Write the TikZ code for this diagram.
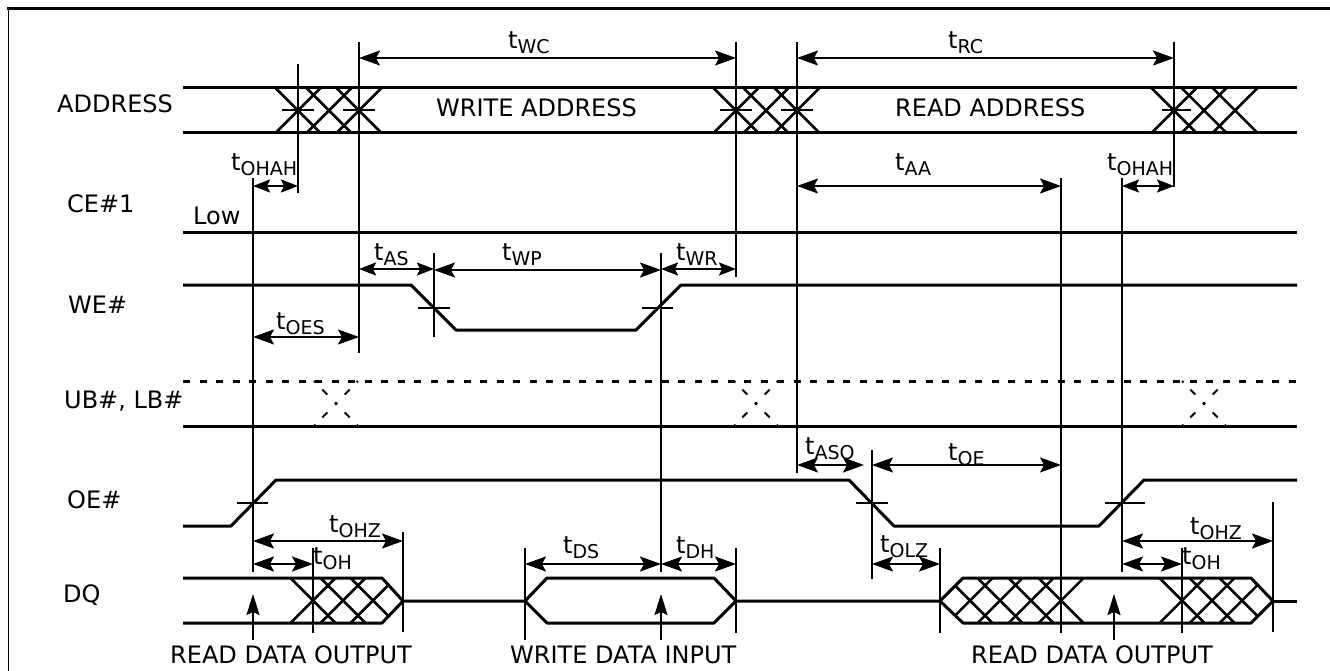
\documentclass[tikz,border=0pt]{standalone}
\usepackage{fontspec}
\setmainfont{DejaVu Sans}
\usetikzlibrary{arrows.meta}
\newcommand{\tlab}[1]{t\raisebox{-5pt}{\fontsize{19}{19}\selectfont #1}}
\newcommand{\crossx}[3]{\draw[hatch] (#1-22.5,#2) -- (#1+22.5,#3) (#1-22.5,#3) -- (#1+22.5,#2);}
\newcommand{\dotcross}[1]{\draw[dotx] (#1-22,381) -- (#1+22,426) (#1-22,426) -- (#1+22,381);}
\begin{document}
\begin{tikzpicture}[x=1pt,y=-1pt,
    every node/.style={anchor=base west,inner sep=0pt,font=\fontsize{24}{26}\selectfont},
    sig/.style={line width=3pt,line join=round},
    hatch/.style={line width=2.5pt},
    vline/.style={line width=2pt},
    dotx/.style={line width=2pt,dash pattern=on 2pt off 10pt on 7pt off 11pt on 3pt off 11pt on 7pt off 10pt on 2pt},
    dim/.style={{Stealth[length=21pt,width=15pt,inset=4pt]}-{Stealth[length=21pt,width=15pt,inset=4pt]},line width=2pt},
    dims/.style={{Stealth[length=17pt,width=13pt,inset=3pt]}-{Stealth[length=17pt,width=13pt,inset=3pt]},line width=2pt},
    riser/.style={-{Stealth[length=21pt,width=13pt,inset=3pt]},line width=2pt}]
  \useasboundingbox (0,0) rectangle (1330,671);
  \draw[line width=3pt] (7,9) -- (1330,9);
  \draw[line width=1.2pt] (8.5,9) -- (8.5,671);
  % signal labels
  \node (address) at (57,113) {ADDRESS};
  \node (ce) at (67,213) {CE\#1};
  \node (we) at (68,313) {WE\#};
  \node (ub) at (64,408) {UB\#, LB\#};
  \node (oe) at (67,508) {OE\#};
  \node (dq) at (63,602) {DQ};
  \node (low) at (193,225) {Low};
  \node (wraddr) at (436,117) {WRITE ADDRESS};
  \node (rdaddr) at (895,117) {READ ADDRESS};
  \node (rdout1) at (170,663) {READ DATA OUTPUT};
  \node (wrin) at (510,663) {WRITE DATA INPUT};
  \node (rdout2) at (971,663) {READ DATA OUTPUT};
  % signals
  \draw[sig] (183,88) -- (1297,88) (183,133) -- (1297,133);
  \draw[sig] (183,232) -- (1297,232);
  \draw[sig] (183,285) -- (411,285) -- (456,330) -- (636,330) -- (681,285) -- (1297,285);
  \draw[line width=3pt,dash pattern=on 7pt off 9.5pt] (183,381) -- (1297,381);
  \draw[sig] (183,426) -- (1297,426);
  \draw[sig] (183,526) -- (231,526) -- (276,480) -- (849,480) -- (894,526) -- (1099,526) -- (1144,480) -- (1297,480);
  \draw[sig] (183,578) -- (382,578) -- (403,601) -- (382,623) -- (183,623);
  \draw[sig] (403,601) -- (525,601) -- (547,578) -- (714,578) -- (736,601) -- (714,623) -- (547,623) -- (525,601);
  \draw[sig] (736,601) -- (940,601) -- (963,578) -- (1251,578) -- (1273,601) -- (1251,623) -- (963,623) -- (940,601);
  \draw[sig] (1273,601) -- (1297,601);
  % crossings
  \foreach \xc in {298,329,359,736,766,797,1174,1204,1235} {\crossx{\xc}{88}{133}}
  \foreach \xc in {336,756,1204} {\dotcross{\xc}}
  \begin{scope}
    \clip (183,578) -- (382,578) -- (403,601) -- (382,623) -- (183,623) -- cycle;
    \foreach \xc in {313,343,373} {\crossx{\xc}{578}{623}}
  \end{scope}
  \begin{scope}
    \clip (940,601) -- (963,578) -- (1251,578) -- (1273,601) -- (1251,623) -- (963,623) -- cycle;
    \foreach \xc in {970,1000,1031,1061,1182,1212,1242} {\crossx{\xc}{578}{623}}
  \end{scope}
  % ticks
  \draw[vline] (418,308) -- (450,308) (642,308) -- (673,308);
  \draw[vline] (237,503) -- (268,503) (856,503) -- (888,503) (1105,503) -- (1145,503);
  \draw[vline] (282,110) -- (314,110) (343,110) -- (375,110);
  \draw[vline] (720,110) -- (752,110) (781,110) -- (813,110) (1162,110) -- (1191,110);
  % timing lines
  \foreach \xa/\ya/\yb in {298/64/193,359/42/353,253/178/572,434/253/337,661/253/572,736/42/277,
      797/42/473,1061/178/633,1122/178/572,1174/42/187,403/532/632,313/548/633,525/548/640,
      736/548/633,872/450/579,940/548/633,1182/548/633,1273/502/632}
    {\draw[vline] (\xa,\ya) -- (\xa,\yb);}
  % read and write arrows
  \foreach \xa in {253,661,1114} {\draw[riser] (\xa,640) -- (\xa,594);}
  % dimension arrows
  \draw[dim] (359,58) -- (736,58);
  \draw[dim] (797,58) -- (1174,58);
  \draw[dims] (253,186) -- (298,186);
  \draw[dims] (1122,186) -- (1174,186);
  \draw[dim] (797,186) -- (1061,186);
  \draw[dims] (359,269) -- (434,269);
  \draw[dim] (434,270) -- (661,270);
  \draw[dims] (661,269) -- (736,269);
  \draw[dim] (253,337) -- (359,337);
  \draw[dim] (253,541) -- (403,541);
  \draw[dim] (253,564) -- (313,564);
  \draw[dim] (525,564) -- (661,564);
  \draw[dim] (661,564) -- (736,564);
  \draw[dim] (797,465) -- (864,465);
  \draw[dim] (872,465) -- (1061,465);
  \draw[dim] (872,564) -- (940,564);
  \draw[dim] (1122,541) -- (1273,541);
  \draw[dim] (1122,564) -- (1182,564);
  % timing labels
  \node (twc) at (508,49) {\tlab{WC}};
  \node (trc) at (948,49) {\tlab{RC}};
  \node (tohah1) at (231,171) {\tlab{OHAH}};
  \node (tohah2) at (1107,171) {\tlab{OHAH}};
  \node (taa) at (895,171) {\tlab{AA}};
  \node (tas) at (374,260) {\tlab{AS}};
  \node (twp) at (502,260) {\tlab{WP}};
  \node (twr) at (676,260) {\tlab{WR}};
  \node (toes) at (276,329) {\tlab{OES}};
  \node (tohz1) at (329,532) {\tlab{OHZ}};
  \node (tohz2) at (1190,534) {\tlab{OHZ}};
  \node (toh1) at (313,564) {\tlab{OH}};
  \node (toh2) at (1182,564) {\tlab{OH}};
  \node (tds) at (563,553) {\tlab{DS}};
  \node (tdh) at (676,553) {\tlab{DH}};
  \node (taso) at (805,454) {\tlab{ASO}};
  \node (toe) at (948,460) {\tlab{OE}};
  \node (tolz) at (880,552) {\tlab{OLZ}};
\end{tikzpicture}
\end{document}
